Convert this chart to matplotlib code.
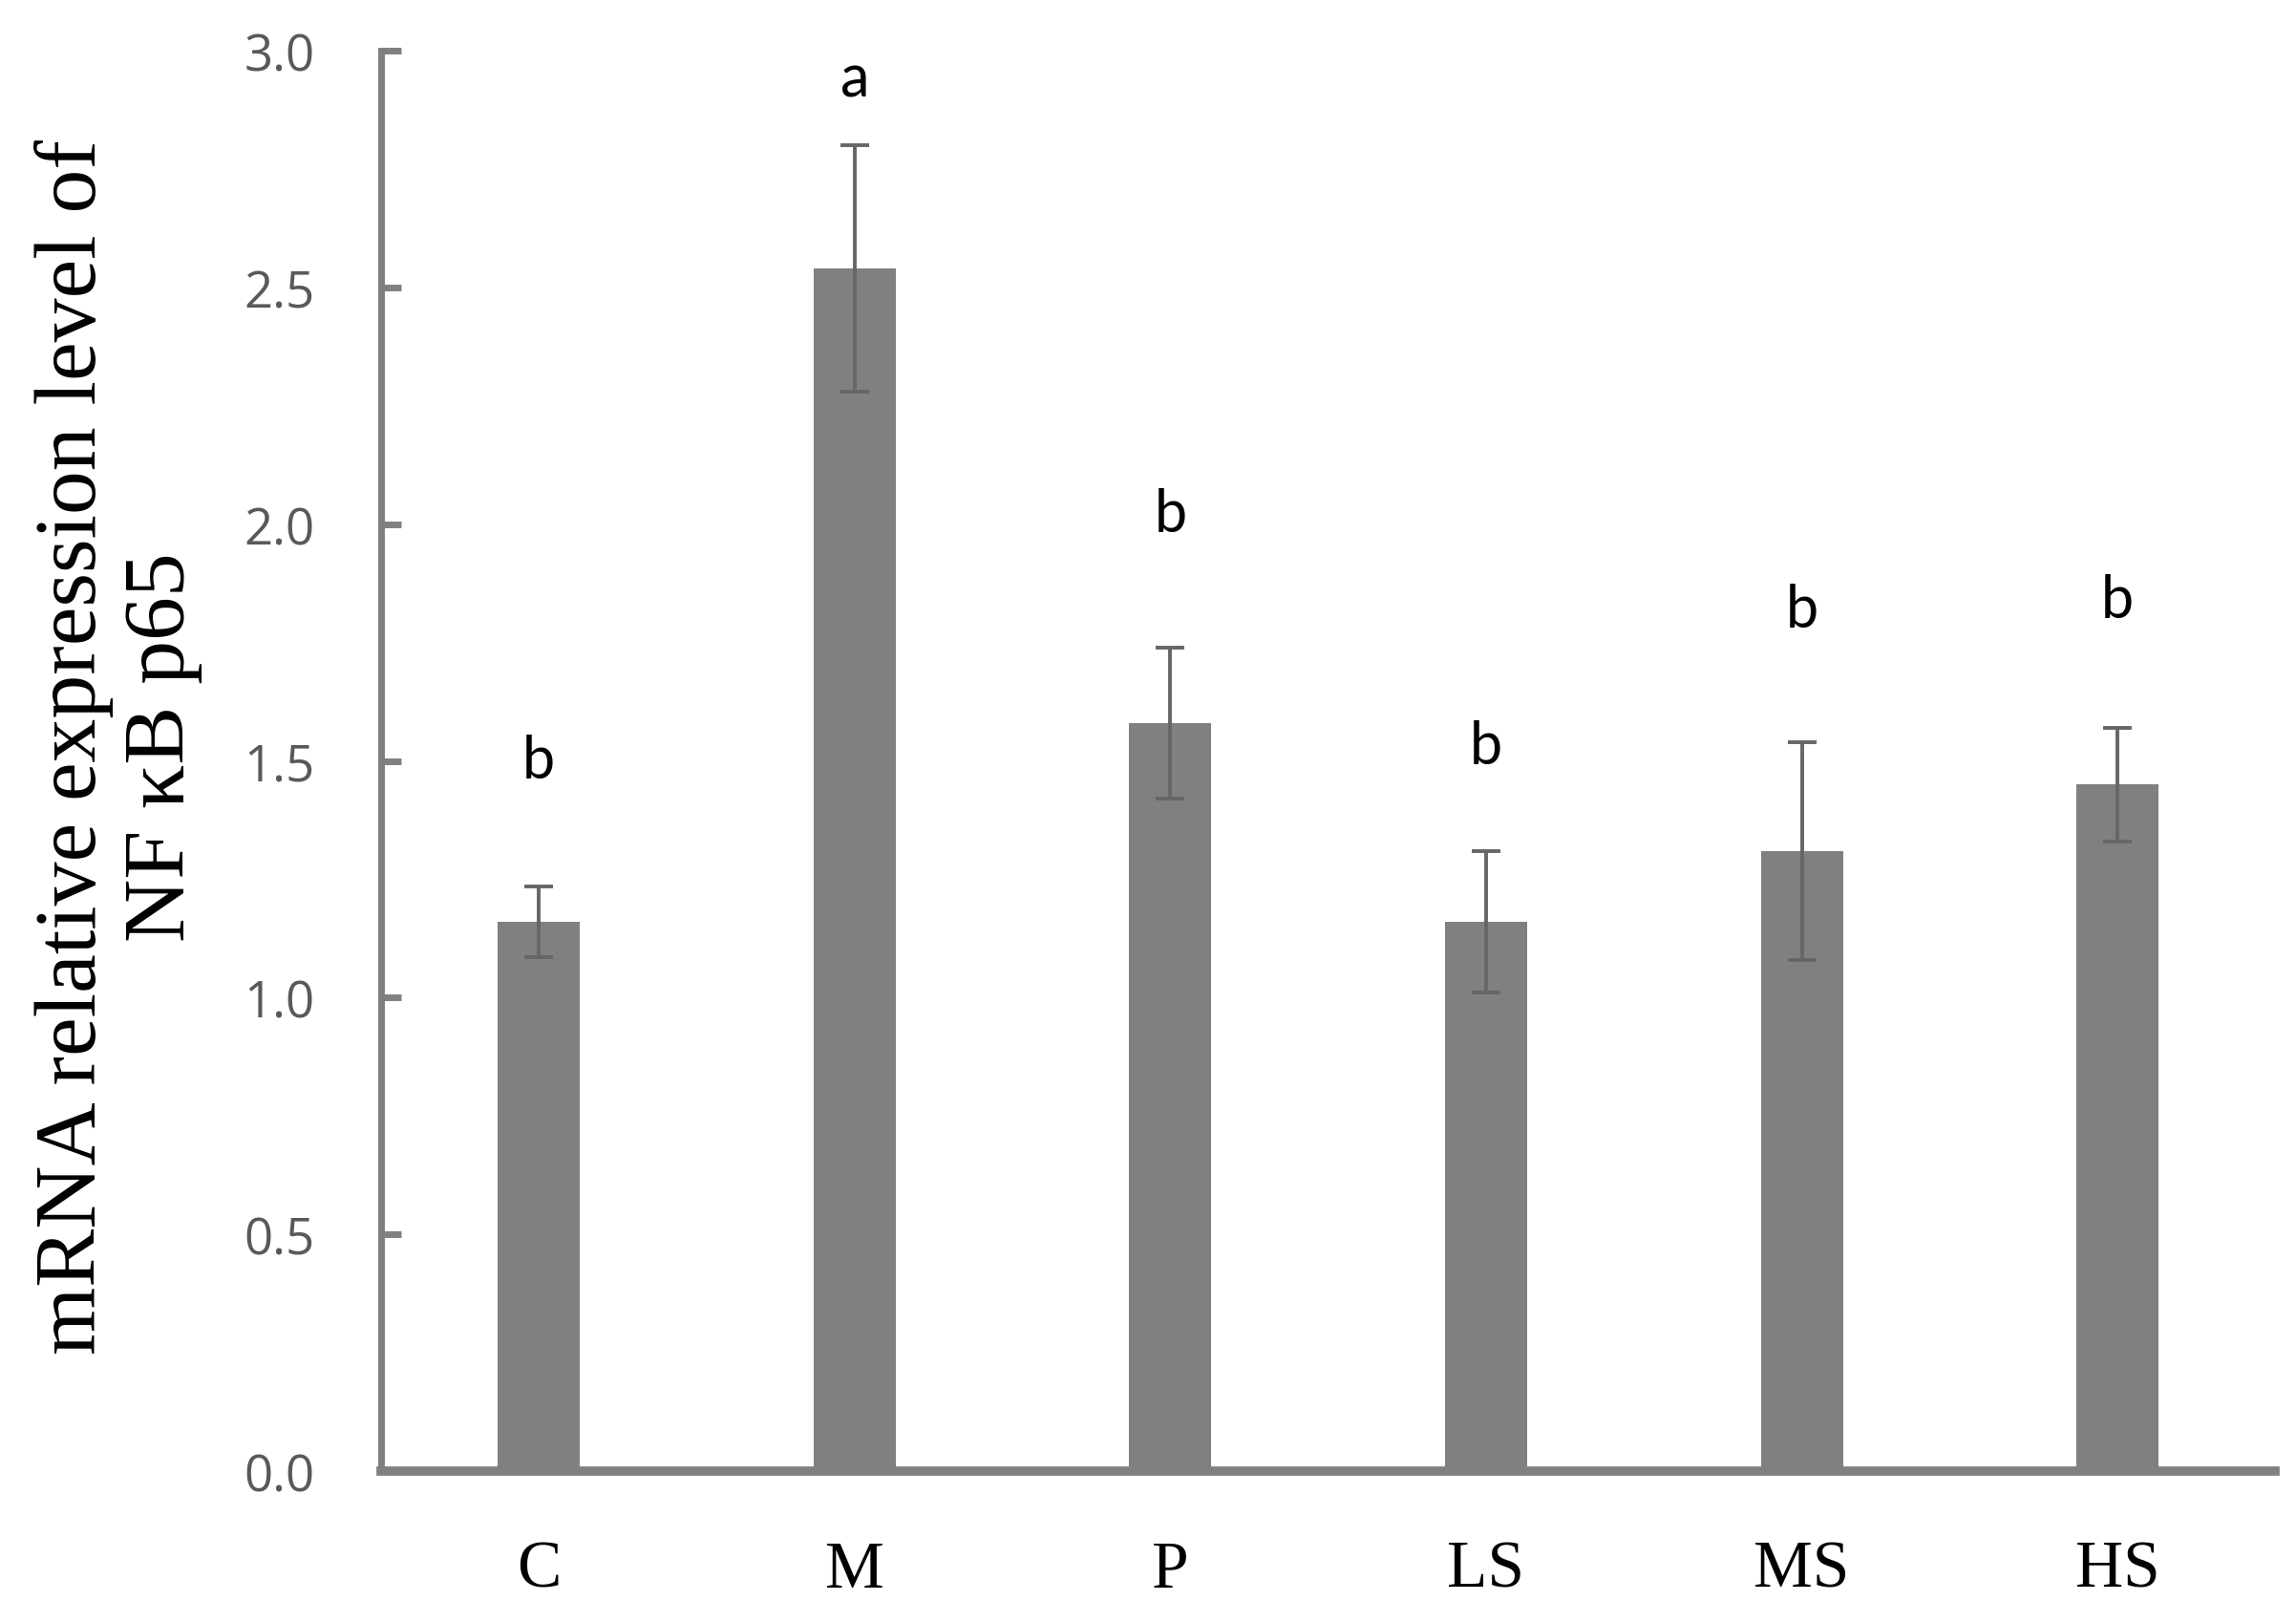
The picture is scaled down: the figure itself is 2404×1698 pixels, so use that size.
import matplotlib
matplotlib.use("Agg")
import matplotlib.pyplot as plt

categories = ["C", "M", "P", "LS", "MS", "HS"]
values = [1.16, 2.54, 1.58, 1.16, 1.31, 1.45]
errors = [0.075, 0.26, 0.16, 0.15, 0.23, 0.12]
letters = ["b", "a", "b", "b", "b", "b"]
letter_y = [1.50, 2.94, 2.02, 1.53, 1.82, 1.84]
yticks = [0.0, 0.5, 1.0, 1.5, 2.0, 2.5, 3.0]

fig = plt.figure(figsize=(24.04, 16.99), dpi=100)
ax = fig.add_axes([0.166, 0.093, 0.825, 0.875])

x = list(range(len(categories)))
ax.bar(x, values, width=0.26, color="#808080", zorder=2)
ax.errorbar(x, values, yerr=errors, fmt="none", ecolor="#666666",
            elinewidth=2.8, capsize=11, capthick=2.8, zorder=3)
for xi, ly, t in zip(x, letter_y, letters):
    ax.text(xi, ly, t, ha="center", va="center", fontsize=44,
            family="Lato", color="black")

ax.set_xlim(-0.5, 5.5)
ax.set_ylim(0, 3.0)
ax.set_yticks(yticks)
ax.set_yticklabels([f"{v:.1f}" for v in yticks], family="Open Sans",
                   fontsize=38, color="#595959")
ax.set_xticks(x)
ax.set_xticklabels(categories, family="Liberation Serif", fontsize=50,
                   color="black")
ax.tick_params(axis="y", direction="in", length=15, width=5,
               color="#808080", pad=50)
ax.tick_params(axis="x", length=0, pad=52)

for s in ["top", "right"]:
    ax.spines[s].set_visible(False)
ax.spines["left"].set_color("#808080")
ax.spines["left"].set_linewidth(5)
ax.spines["bottom"].set_color("#808080")
ax.spines["bottom"].set_linewidth(7)

fig.text(124 / 2404, 1 - 782 / 1699,
         "mRNA relative expression level of\nNF \u03baB p65",
         rotation=90, ha="center", va="center", multialignment="center",
         family="Liberation Serif", fontsize=66, color="black",
         linespacing=1.15)

fig.savefig("out.png", dpi=100, facecolor="white")
